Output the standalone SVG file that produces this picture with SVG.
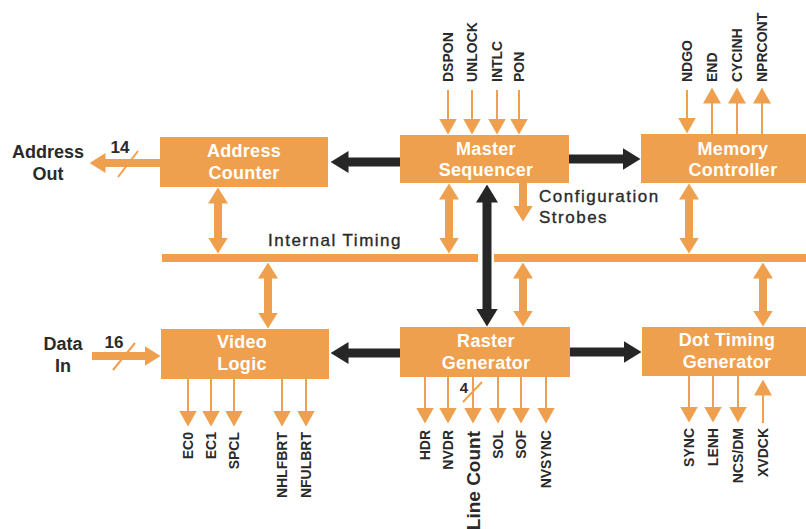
<svg xmlns="http://www.w3.org/2000/svg" width="806" height="529" viewBox="0 0 806 529">
<style>
.box{fill:#EFA04E}
.bt{font-family:"Liberation Sans",Arial,sans-serif;font-weight:bold;font-size:18px;letter-spacing:0.3px;fill:#fff;text-anchor:middle}
.lb{font-family:"Liberation Sans",Arial,sans-serif;font-weight:bold;font-size:14px;fill:#2a2a2a}
.big{font-family:"Liberation Sans",Arial,sans-serif;font-weight:bold;font-size:18px;fill:#2a2a2a}
.md{font-family:"Liberation Sans",Arial,sans-serif;font-size:17px;letter-spacing:1.5px;fill:#2a2a2a;stroke:#2a2a2a;stroke-width:0.35}
.thin{stroke:#EFA04E;stroke-width:2;fill:none;marker-end:url(#ht)}
.thick{stroke:#EFA04E;stroke-width:8;fill:none;marker-end:url(#hk)}
.dbl{stroke:#EFA04E;stroke-width:8;fill:none;marker-end:url(#hk);marker-start:url(#hk)}
.blk{stroke:#262626;stroke-width:9;fill:none;marker-end:url(#hb)}
.slash{stroke:#EFA04E;stroke-width:2;fill:none}
</style>
<defs>
<marker id="ht" markerUnits="userSpaceOnUse" viewBox="0 -9 16 18" refX="0.5" refY="0" markerWidth="16" markerHeight="18" orient="auto-start-reverse"><path d="M0,-9 L16,0 L0,9 z" fill="#EFA04E"/></marker>
<marker id="hk" markerUnits="userSpaceOnUse" viewBox="0 -10 16 20" refX="0.5" refY="0" markerWidth="16" markerHeight="20" orient="auto-start-reverse"><path d="M0,-10 L16,0 L0,10 z" fill="#EFA04E"/></marker>
<marker id="hb" markerUnits="userSpaceOnUse" viewBox="0 -11 18 22" refX="0.5" refY="0" markerWidth="18" markerHeight="22" orient="auto-start-reverse"><path d="M0,-11 L18,0 L0,11 z" fill="#262626"/></marker>
</defs>
<rect width="806" height="529" fill="#fff"/>

<g id="bus">
<rect x="162" y="254" width="316" height="8" class="box"/>
<rect x="494" y="254" width="312" height="8" class="box"/>
<text x="268" y="246" class="md">Internal Timing</text>
</g>

<g id="connectors">
<path d="M400,162 H348" class="blk"/>
<path d="M569,159 H623" class="blk"/>
<path d="M487,202 V309" class="blk" style="marker-start:url(#hb)"/>
<path d="M400,353 H348" class="blk"/>
<path d="M570,352 H624" class="blk"/>
<path d="M218,203 V238" class="dbl"/>
<path d="M449,199 V238" class="dbl"/>
<path d="M689,199 V238" class="dbl"/>
<path d="M268,278 V313" class="dbl"/>
<path d="M523,278 V311" class="dbl"/>
<path d="M763,278 V311" class="dbl"/>
<path d="M523,183 V206" class="thick"/>
<path d="M160,163 H105" class="thick"/>
<path d="M92,356 H145" class="thick"/>
<path d="M448,90 V119" class="thin"/>
<path d="M472,90 V119" class="thin"/>
<path d="M497,90 V119" class="thin"/>
<path d="M519,90 V119" class="thin"/>
<path d="M687,90 V118" class="thin"/>
<path d="M712,134 V103" class="thin"/>
<path d="M737,134 V103" class="thin"/>
<path d="M762,134 V103" class="thin"/>
<path d="M188,379 V411" class="thin"/>
<path d="M211,379 V411" class="thin"/>
<path d="M234,379 V411" class="thin"/>
<path d="M282,379 V411" class="thin"/>
<path d="M306,379 V411" class="thin"/>
<path d="M425,377 V408" class="thin"/>
<path d="M448,377 V408" class="thin"/>
<path d="M473,377 V408" class="thin"/>
<path d="M498,377 V408" class="thin"/>
<path d="M521,377 V408" class="thin"/>
<path d="M546,377 V408" class="thin"/>
<path d="M689,376 V407" class="thin"/>
<path d="M713,376 V407" class="thin"/>
<path d="M738,376 V407" class="thin"/>
<path d="M763,423 V395" class="thin"/>
<path d="M118,177 L138,151" class="slash"/>
<path d="M113,370 L135,343" class="slash"/>
<path d="M463,402 L482,382" class="slash"/>
</g>

<g id="address-counter">
<rect x="160" y="137" width="168" height="50" class="box"/>
<text x="244" y="157" class="bt">Address</text>
<text x="244" y="179" class="bt">Counter</text>
</g>
<g id="master-sequencer">
<rect x="400" y="135" width="169" height="48" class="box"/>
<text x="486" y="155" class="bt">Master</text>
<text x="486" y="176" class="bt">Sequencer</text>
</g>
<g id="memory-controller">
<rect x="641" y="134" width="170" height="49" class="box"/>
<text x="733" y="155" class="bt">Memory</text>
<text x="733" y="176" class="bt">Controller</text>
</g>
<g id="video-logic">
<rect x="161" y="329" width="168" height="50" class="box"/>
<text x="242" y="348" class="bt">Video</text>
<text x="242" y="370" class="bt">Logic</text>
</g>
<g id="raster-generator">
<rect x="400" y="327" width="170" height="50" class="box"/>
<text x="486" y="347" class="bt">Raster</text>
<text x="486" y="369" class="bt">Generator</text>
</g>
<g id="dot-timing-generator">
<rect x="642" y="327" width="170" height="49" class="box"/>
<text x="727" y="346" class="bt">Dot Timing</text>
<text x="727" y="368" class="bt">Generator</text>
</g>

<g id="labels">
<text x="48" y="158" class="big" text-anchor="middle">Address</text>
<text x="48" y="180" class="big" text-anchor="middle">Out</text>
<text x="120" y="153" class="big" text-anchor="middle" style="font-size:17px">14</text>
<text x="63" y="350" class="big" text-anchor="middle">Data</text>
<text x="63" y="372" class="big" text-anchor="middle">In</text>
<text x="114" y="348" class="big" text-anchor="middle" style="font-size:17px">16</text>
<text x="464" y="393" class="big" text-anchor="middle" style="font-size:15px">4</text>
<text x="539" y="202" class="md">Configuration</text>
<text x="539" y="223" class="md">Strobes</text>

<g class="lb">
<text transform="translate(453,82) rotate(-90)">DSPON</text>
<text transform="translate(477,82) rotate(-90)">UNLOCK</text>
<text transform="translate(502,82) rotate(-90)">INTLC</text>
<text transform="translate(524,82) rotate(-90)">PON</text>
<text transform="translate(692,82) rotate(-90)">NDGO</text>
<text transform="translate(717,82) rotate(-90)">END</text>
<text transform="translate(742,82) rotate(-90)">CYCINH</text>
<text transform="translate(767,82) rotate(-90)">NPRCONT</text>
</g>
<g class="lb" text-anchor="end">
<text transform="translate(193,432) rotate(-90)">EC0</text>
<text transform="translate(216,432) rotate(-90)">EC1</text>
<text transform="translate(239,432) rotate(-90)">SPCL</text>
<text transform="translate(287,432) rotate(-90)">NHLFBRT</text>
<text transform="translate(311,432) rotate(-90)">NFULBRT</text>
<text transform="translate(430,430) rotate(-90)">HDR</text>
<text transform="translate(453,430) rotate(-90)">NVDR</text>
<text transform="translate(503,430) rotate(-90)">SOL</text>
<text transform="translate(526,430) rotate(-90)">SOF</text>
<text transform="translate(551,430) rotate(-90)">NVSYNC</text>
<text transform="translate(694,428) rotate(-90)">SYNC</text>
<text transform="translate(718,428) rotate(-90)">LENH</text>
<text transform="translate(743,428) rotate(-90)">NCS/DM</text>
<text transform="translate(768,428) rotate(-90)">XVDCK</text>
</g>
<text transform="translate(480,431) rotate(-90)" class="big" text-anchor="end" style="font-size:19px">Line Count</text>
</g>
</svg>
